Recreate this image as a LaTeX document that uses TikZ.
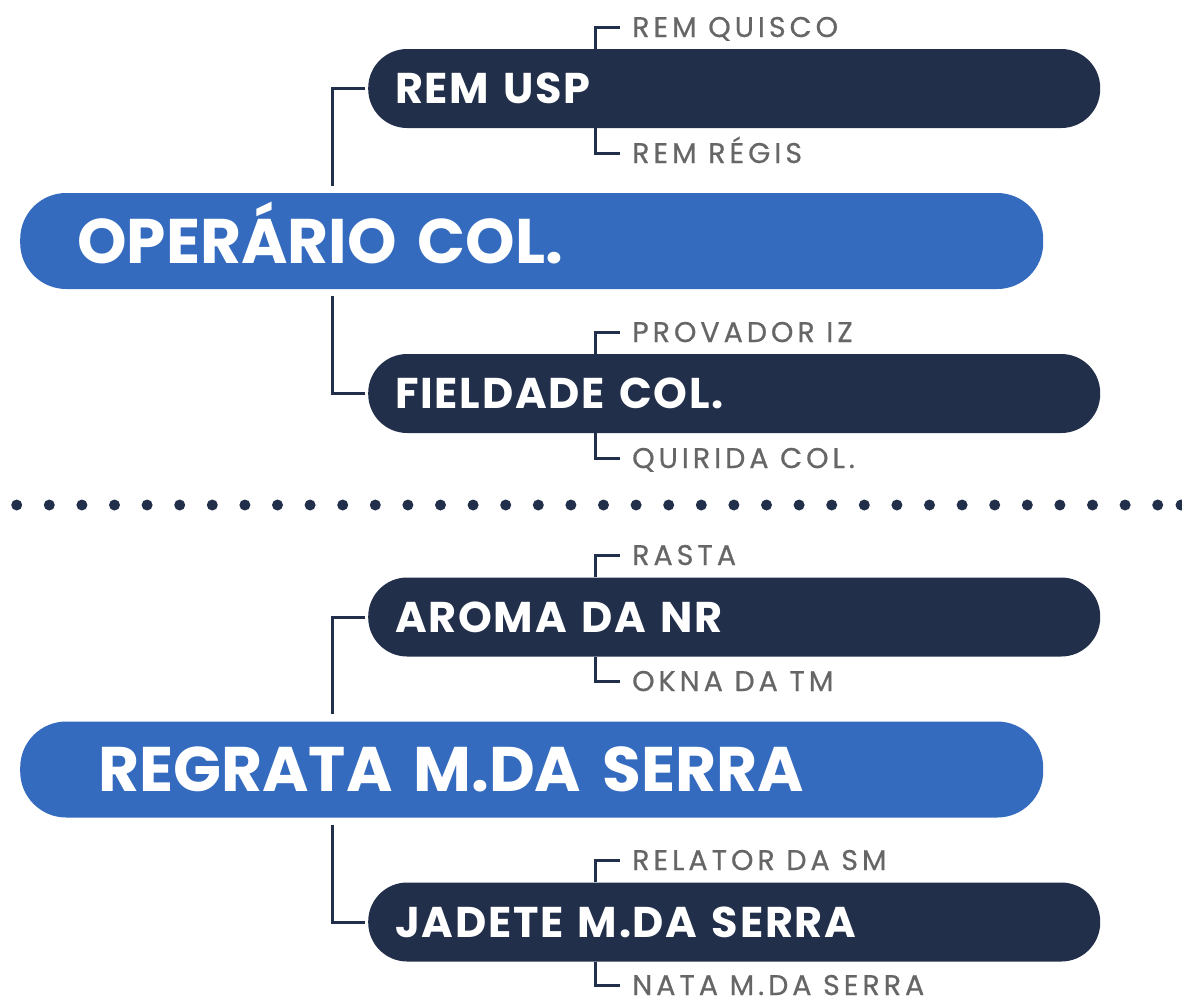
\documentclass[tikz,border=0pt]{standalone}
\usepackage{fontspec}
\setmainfont{Poppins}
\newfontfamily\barfont{Poppins}[LetterSpace=4]
\newfontfamily\labelfont{Poppins}[LetterSpace=14,FakeBold=0.6]
\definecolor{navy}{RGB}{34,47,75}
\definecolor{barblue}{RGB}{52,107,191}
\definecolor{labelgray}{RGB}{102,102,102}

\begin{document}
\begin{tikzpicture}[x=1pt,y=-1pt,
    bluebar/.style={rectangle,fill=barblue,text=white,anchor=west,minimum height=96pt,rounded corners=46pt,inner ysep=0pt,align=left,font=\fontsize{63}{63}\selectfont\bfseries,text height=44pt,text depth=0pt},
    darkbar/.style={rectangle,fill=navy,text=white,anchor=west,minimum height=79pt,rounded corners=39pt,inner ysep=0pt,inner xsep=27pt,text width=678pt,align=left,font=\fontsize{43}{43}\barfont\bfseries,text height=30pt,text depth=0pt},
    sublabel/.style={anchor=west,text=labelgray,inner xsep=12pt,inner ysep=0pt,font=\fontsize{28.5}{28.5}\labelfont,text height=20pt,text depth=0pt},
    link/.style={draw=navy,line width=3pt}]
            \useasboundingbox (0,0) rectangle (1182,996);
            \coordinate (trunk) at (332,0);
            \coordinate (fork) at (595,0);

            \node [bluebar, inner xsep=57pt, text width=909pt](opr) at (20,241) {OPERÁRIO COL.};
            \node [darkbar](remusp) at (368,88.5) {REM USP};
            \node [darkbar](field) at (368,393.5) {FIELDADE COL.};
            \node [sublabel](quisco) at (620,27) {REM QUISCO};
            \node [sublabel](regis) at (620,153) {REM RÉGIS};
            \node [sublabel](provador) at (620,332) {PROVADOR IZ};
            \node [sublabel](quirida) at (620,458) {QUIRIDA COL.};

            \node [bluebar, inner xsep=78pt, text width=867pt](regrata) at (20,769.5) {REGRATA M.DA SERRA};
            \node [darkbar](aroma) at (368,617) {AROMA DA NR};
            \node [darkbar](jadete) at (368,922) {JADETE M.DA SERRA};
            \node [sublabel](rasta) at (620,555) {RASTA};
            \node [sublabel](okna) at (620,681) {OKNA DA TM};
            \node [sublabel](relator) at (620,860) {RELATOR DA SM};
            \node [sublabel](nata) at (620,985) {NATA M.DA SERRA};

            \draw [link, shorten <=7pt, shorten >=3pt] (opr.north -| trunk) |- (remusp.west);
            \draw [link, shorten <=7pt, shorten >=3pt] (opr.south -| trunk) |- (field.west);
            \draw [link, shorten <=7pt, shorten >=3pt] (regrata.north -| trunk) |- (aroma.west);
            \draw [link, shorten <=7pt, shorten >=3pt] (regrata.south -| trunk) |- (jadete.west);

            \draw [link] (remusp.north -| fork) |- (quisco.west);
            \draw [link] (remusp.south -| fork) |- (regis.west);
            \draw [link] (field.north -| fork) |- (provador.west);
            \draw [link] (field.south -| fork) |- (quirida.west);
            \draw [link] (aroma.north -| fork) |- (rasta.west);
            \draw [link] (aroma.south -| fork) |- (okna.west);
            \draw [link] (jadete.north -| fork) |- (relator.west);
            \draw [link] (jadete.south -| fork) |- (nata.west);

            \foreach \k in {0,...,35}
                \fill [navy] (16.7+\k*32.6,505) circle (5.5pt);
            \fill [navy] (1181,505) circle (5.5pt);
\end{tikzpicture}
\end{document}
